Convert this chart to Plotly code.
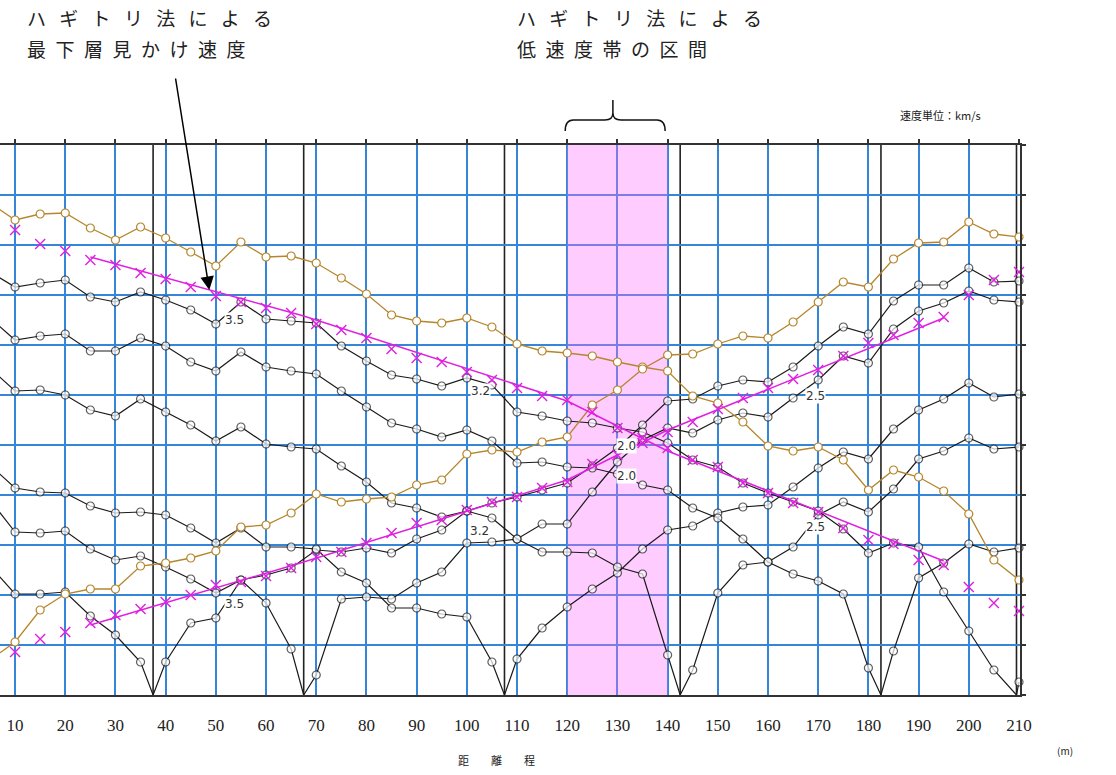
import plotly.graph_objects as go

# ---------------- data ----------------
x_geo = [5, 10, 15, 20, 25, 30, 35, 40, 45, 50, 55, 60, 65, 70, 75, 80, 85, 90, 95, 100, 105,
         110, 115, 120, 125, 130, 135, 140, 145, 150, 155, 160, 165, 170, 175, 180, 185, 190,
         195, 200, 205, 210]
x_pick = x_geo[1:]
shot_x = [37.5, 67.5, 107.5, 142.5, 182.5, 209.5]

t_shot_37_5 = [25.8, 20.2, 20.2, 20.6, 15.8, 12.0, 6.6, 6.6, 14.4, 15.4, 23.0, 24.0, 25.4, 29.0,
               28.6, 29.4, 28.4, 31.2, 33.0, 36.8, 38.4, 39.6, 41.0, 42.4, 45.8, 49.4, 54.0, 58.8,
               59.2, 61.8, 63.0, 62.6, 65.6, 69.8, 73.6, 72.2, 78.8, 82.0, 82.0, 85.4, 82.6, 82.8]
t_shot_67_5 = [39.0, 32.6, 32.4, 32.8, 29.2, 27.0, 27.8, 25.6, 23.2, 20.4, 23.0, 18.4, 9.2, 4.0,
               19.2, 19.6, 19.2, 22.4, 24.6, 30.4, 30.6, 31.2, 34.2, 34.2, 40.6, 46.6, 51.0, 53.4,
               52.4, 55.0, 56.4, 55.6, 59.4, 63.0, 67.8, 66.4, 73.2, 76.8, 78.4, 80.8, 79.0, 78.6]
t_shot_107_5 = [46.0, 41.4, 40.6, 40.4, 37.8, 36.4, 36.6, 36.0, 33.4, 30.4, 33.4, 29.6, 29.6, 29.2,
                24.6, 22.4, 17.4, 17.4, 16.2, 15.6, 6.6, 7.2, 13.4, 17.6, 21.2, 24.4, 29.2, 33.0,
                33.8, 36.4, 37.6, 38.0, 41.6, 45.4, 48.6, 47.2, 53.2, 57.0, 59.2, 62.4, 59.6, 60.2]
t_shot_142_5 = [65.4, 60.8, 61.0, 60.0, 57.0, 55.8, 59.2, 56.6, 54.0, 50.8, 53.6, 50.2, 49.6, 49.2,
                45.8, 42.6, 38.4, 37.4, 35.6, 36.8, 35.4, 31.2, 28.6, 28.6, 28.4, 25.6, 24.2, 8.0,
                5.0, 20.4, 26.0, 26.6, 29.6, 36.0, 38.6, 36.6, 41.2, 47.2, 48.8, 51.4, 49.2, 49.6]
t_shot_182_5 = [75.4, 71.0, 71.8, 72.2, 68.8, 68.8, 71.4, 69.8, 66.6, 64.8, 68.6, 65.6, 64.8, 64.2,
                60.8, 57.6, 54.4, 53.2, 51.6, 53.0, 50.8, 46.4, 46.6, 45.6, 45.4, 44.2, 42.0, 41.0,
                37.4, 35.4, 31.2, 26.6, 24.2, 22.8, 20.2, 5.4, 8.8, 23.4, 26.4, 30.2, 28.6, 29.4]
t_shot_209_5 = [84.6, 81.6, 82.4, 83.0, 79.6, 78.6, 80.6, 79.0, 77.0, 74.2, 78.6, 75.2, 74.8, 74.4,
                69.8, 66.8, 64.0, 63.2, 61.8, 63.4, 62.0, 56.6, 55.8, 54.8, 54.4, 53.4, 52.6, 50.4,
                47.0, 45.6, 42.4, 40.4, 38.6, 36.8, 33.2, 28.4, 30.4, 29.6, 20.6, 12.8, 5.0, 2.6]

t_far_right = [98.4, 95.0, 96.2, 96.4, 93.4, 91.0, 93.6, 91.4, 88.6, 85.8, 90.6, 87.6, 87.8, 86.4,
               83.4, 80.2, 76.0, 74.8, 74.4, 75.4, 73.6, 70.2, 68.8, 68.4, 67.8, 66.6, 65.6, 64.8,
               59.8, 58.4, 54.6, 49.8, 48.8, 49.6, 47.0, 41.0, 45.0, 43.6, 40.8, 36.2, 27.0, 23.0]
t_far_left = [7.0, 10.6, 17.0, 20.2, 21.2, 21.2, 25.8, 26.4, 27.4, 28.8, 33.6, 34.0, 36.4, 40.2,
              38.6, 39.2, 39.6, 42.0, 43.0, 48.2, 49.0, 48.6, 50.6, 51.6, 58.0, 61.0, 65.2, 68.0,
              68.2, 70.2, 71.8, 71.4, 74.6, 78.6, 82.6, 81.6, 87.2, 90.4, 90.6, 94.6, 92.2, 91.6]

hagi_down = [93.0, 90.2, 88.8, 87.0, 86.0, 84.4, 83.2, 81.6, 79.8, 78.6, 77.4, 76.4, 74.2, 73.0,
             71.4, 69.2, 67.4, 66.6, 64.6, 63.0, 61.4, 59.8, 59.0, 56.6, 53.4, 51.4, 49.4, 47.0,
             45.6, 42.4, 40.4, 38.4, 36.6, 33.4, 31.0, 30.2, 27.0, 26.0, 21.6, 18.4, 16.8]
hagi_up = [8.6, 11.2, 12.6, 14.4, 16.0, 17.2, 18.6, 20.0, 22.0, 22.6, 23.8, 25.4, 27.6, 28.6,
           30.4, 32.4, 34.4, 35.0, 37.0, 38.6, 39.6, 41.4, 42.6, 46.2, 48.0, 50.4, 52.6, 54.6,
           57.2, 59.4, 61.4, 63.2, 65.0, 67.8, 70.4, 72.0, 74.4, 75.6, 80.0, 83.0, 84.6]

fit_x = [25, 67.5, 120, 140, 195]
fit_down = [87.6, 75.8, 58.8, 48.8, 26.8]
fit_up = [14.0, 26.6, 43.0, 53.0, 75.4]

vel_text = ["3.5", "3.5", "3.2", "3.2", "2.0", "2.0", "2.5", "2.5"]
vel_x = [53.8, 53.8, 102.8, 102.6, 131.9, 131.9, 169.4, 169.4]
vel_t = [75.0, 18.2, 60.8, 32.8, 49.8, 43.8, 59.8, 33.6]

low_zone = [120, 140]
t_range = [0, 110]
x_range = [7.0, 210.2]
x_ticks = [10, 20, 30, 40, 50, 60, 70, 80, 90, 100, 110, 120, 130, 140, 150, 160, 170, 180,
           190, 200, 210]
y_ticks = [0, 10, 20, 30, 40, 50, 60, 70, 80, 90, 100, 110]

# ---------------- style ----------------
BLACK = "#1a1a1a"
BROWN = "#B5862C"
MAGENTA = "#E020E0"
BLUE = "#3585D8"

fig = go.Figure()

# low-velocity zone band (drawn as first trace: above the grid, below the data)
fig.add_trace(go.Scatter(
    x=[low_zone[0], low_zone[1], low_zone[1], low_zone[0], low_zone[0]],
    y=[t_range[0], t_range[0], t_range[1], t_range[1], t_range[0]],
    mode="lines", fill="toself", fillcolor="rgba(255,109,255,0.35)",
    line=dict(width=0), hoverinfo="skip", showlegend=False))

shots = [(37.5, t_shot_37_5), (67.5, t_shot_67_5), (107.5, t_shot_107_5),
         (142.5, t_shot_142_5), (182.5, t_shot_182_5), (209.5, t_shot_209_5)]
for sx, tt in shots:
    pts = sorted(list(zip(x_geo, tt)) + [(sx, 0.0)])
    xs = [p[0] for p in pts]
    ys = [p[1] for p in pts]
    sizes = [0 if p[0] == sx else 8 for p in pts]
    fig.add_trace(go.Scatter(x=xs, y=ys, mode="lines+markers",
                             line=dict(color=BLACK, width=1.2),
                             marker=dict(symbol="circle", size=sizes, color="white",
                                         line=dict(color=BLACK, width=1.2)),
                             cliponaxis=False, hoverinfo="skip", showlegend=False))

for tt in (t_far_right, t_far_left):
    fig.add_trace(go.Scatter(x=x_geo, y=tt, mode="lines+markers",
                             line=dict(color=BROWN, width=1.3),
                             marker=dict(symbol="circle", size=8, color="white",
                                         line=dict(color=BROWN, width=1.2)),
                             cliponaxis=False, hoverinfo="skip", showlegend=False))

for tt in (hagi_down, hagi_up):
    fig.add_trace(go.Scatter(x=x_pick, y=tt, mode="markers",
                             marker=dict(symbol="x-thin", size=10,
                                         line=dict(color=MAGENTA, width=1.4)),
                             cliponaxis=False, hoverinfo="skip", showlegend=False))
for tt in (fit_down, fit_up):
    fig.add_trace(go.Scatter(x=fit_x, y=tt, mode="lines",
                             line=dict(color=MAGENTA, width=1.5),
                             hoverinfo="skip", showlegend=False))

# dummy trace for top / right tick axes
fig.add_trace(go.Scatter(x=[], y=[], xaxis="x2", yaxis="y2", showlegend=False))

shapes = []
for sx in shot_x:
    shapes.append(dict(type="line", xref="x", yref="paper", x0=sx, x1=sx, y0=0, y1=1,
                       line=dict(color="#222222", width=1.6), layer="below"))
# curly brace above the low-velocity zone
bl, bc, br = 119.6, 129.1, 139.5
ye, ym, yc, yt = 1.0255, 1.0455, 1.0582, 1.0818
brace = (f"M {bl},{ye} Q {bl},{ym} {bl+1.6},{ym} L {bc-1.6},{ym} Q {bc},{ym} {bc},{yc} "
         f"L {bc},{yt} M {bc},{yc} Q {bc},{ym} {bc+1.6},{ym} L {br-1.6},{ym} "
         f"Q {br},{ym} {br},{ye}")
shapes.append(dict(type="path", xref="x", yref="paper", path=brace,
                   line=dict(color="#111111", width=1.5)))

annotations = []
for txt, vx, vt in zip(vel_text, vel_x, vel_t):
    annotations.append(dict(x=vx, y=vt, xref="x", yref="y", text=txt, showarrow=False,
                            xanchor="center", yanchor="middle",
                            font=dict(family="DejaVu Sans", size=12, color="#333333"),
                            bgcolor="white", borderpad=0))

jp = "Noto Sans CJK JP"
sp1 = "\u2002\u2009"
sp2 = "\u2002"
def note(x, y, text, size, xanchor="left"):
    return dict(x=x, y=y, xref="paper", yref="paper", text=text, showarrow=False,
                xanchor=xanchor, yanchor="middle", font=dict(family=jp, size=size, color="#222"))

annotations += [
    note(0.0245, 1.231, sp1.join("ハギトリ法による"), 19),
    note(0.0245, 1.176, sp2.join("最下層見かけ速度"), 19),
    note(0.505, 1.231, sp1.join("ハギトリ法による"), 19),
    note(0.505, 1.176, sp2.join("低速度帯の区間"), 19),
    note(0.9216, 1.0545, "速度単位：km/s", 11, "center"),
    note(0.487, -0.118, "距\u3000\u3000離\u3000\u3000程", 11, "center"),
    note(1.044, -0.1, "(m)", 10, "center"),
    dict(x=48.7, y=81.0, xref="x", yref="y", text="", showarrow=True, ax=-34, ay=-213,
         arrowhead=2, arrowsize=1.8, arrowwidth=1.5, arrowcolor="#000000"),
]

fig.update_layout(
    width=1116, height=775,
    margin=dict(l=0, r=96, t=145, b=80),
    paper_bgcolor="white", plot_bgcolor="white",
    showlegend=False,
    xaxis=dict(range=x_range, tickvals=x_ticks, ticktext=[str(v) for v in x_ticks],
               showgrid=True, gridcolor=BLUE, gridwidth=2, zeroline=False,
               showline=True, linecolor="#333333", linewidth=2, mirror=True,
               ticks="", ticklabelstandoff=14,
               tickfont=dict(family="Liberation Serif", size=17, color="#222")),
    yaxis=dict(range=t_range, tickvals=y_ticks, showgrid=True, gridcolor=BLUE, gridwidth=2,
               zeroline=False, showticklabels=False, showline=True, linecolor="#333333",
               linewidth=2, mirror=True, ticks=""),
    xaxis2=dict(overlaying="x", side="top", anchor="y", range=x_range, tickvals=x_ticks,
                showticklabels=False, ticks="outside", ticklen=5, tickcolor="#333333",
                tickwidth=1.5, showgrid=False, zeroline=False, showline=False),
    yaxis2=dict(overlaying="y", side="right", anchor="x", range=t_range, tickvals=y_ticks,
                showticklabels=False, ticks="outside", ticklen=5, tickcolor="#333333",
                tickwidth=1.5, showgrid=False, zeroline=False, showline=False),
    shapes=shapes, annotations=annotations,
)

fig.write_html("out.html")
